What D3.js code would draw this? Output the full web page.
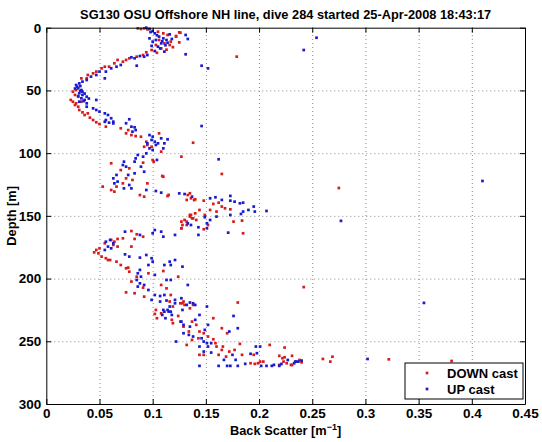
<!DOCTYPE html>
<html><head><meta charset="utf-8">
<script src="https://cdn.jsdelivr.net/npm/d3@7"></script>
<style>
body{margin:0;background:#fff}
svg{display:block}
text{font-family:"Liberation Sans",Arial,Helvetica,sans-serif;font-weight:bold;fill:#000}
</style></head>
<body><svg id="chart" width="542" height="442"></svg>
<script>
const titleText = "SG130 OSU Offshore NH line, dive 284 started 25-Apr-2008 18:43:17";
const xTicks = [0,0.05,0.1,0.15,0.2,0.25,0.3,0.35,0.4,0.45];
const yTicks = [0,50,100,150,200,250,300];
const seriesNames = ["DOWN cast","UP cast"];

// [back scatter, depth]
const downCast = [
[0.086,0.5],[0.089,1],[0.092,0.5],[0.095,1.3],[0.105,3.2],[0.110,4.5],[0.114,5.8],[0.125,3.7],[0.122,7.1],[0.106,9.8],[0.117,11.1],[0.111,12.5],[0.125,11.7],[0.103,13.8],[0.116,13.8],[0.108,16.5],[0.099,17.8],[0.094,19.6],[0.091,21.8],[0.085,23.1],[0.078,24.4],[0.075,25.7],[0.072,27.1],[0.067,25.7],[0.064,28.4],[0.059,31.1],[0.055,31.1],[0.052,32.4],[0.047,35.0],[0.044,36.4],[0.039,37.7],[0.038,40.4],[0.033,40.4],
[0.113,17.5],[0.119,15.5],[0.104,20],
[0.028,49.7],[0.025,51.0],[0.027,53.6],[0.023,57.6],[0.025,59.0],[0.028,60.3],[0.027,61.6],[0.030,63.0],[0.031,65.6],[0.034,67.5],[0.036,69.6],[0.039,68.3],[0.041,71.7],[0.044,73.6],[0.047,75.4],[0.050,76.8],[0.033,59],[0.030,55],
[0.126,4],[0.122,6.6],[0.179,23.1],
[0.056,78.9],[0.070,80.2],[0.077,81.6],[0.075,84.2],[0.080,85.6],[0.084,86.4],[0.089,86.9],[0.094,90.9],[0.092,94.9],[0.106,84.2],[0.108,98.8],[0.138,91.7],[0.127,102.8],[0.099,94.9],[0.095,93.5],[0.061,108.1],[0.078,112.1],[0.070,113.5],[0.091,107.6],[0.100,105.5],[0.110,118.8],[0.075,120.1],[0.081,121.4],[0.072,124.1],[0.095,124.1],[0.066,126.7],[0.061,129.4],[0.064,130.7],[0.053,126.7],[0.088,133.4],[0.092,134.7],[0.114,134.2],[0.133,133.4],[0.136,136.0],[0.139,137.4],[0.135,150.6],
[0.101,106.8],[0.109,118.2],[0.165,116.6],[0.115,133.3],[0.135,132],[0.132,137.3],[0.140,136.8],[0.148,137.9],[0.157,140.5],[0.162,139.5],[0.165,142.6],[0.168,144],[0.173,144.8],[0.144,145.3],[0.140,148.0],[0.135,149.3],[0.141,153.3],[0.137,152.0],[0.130,153.3],[0.127,154.6],[0.149,149.3],[0.154,145.3],[0.160,146.6],[0.176,154.6],[0.184,153.8],[0.185,163.9],[0.148,160.7],[0.132,157.3],[0.127,159.9],[0.152,157.3],
[0.275,127.8],
[0.132,154.6],[0.128,157.3],[0.127,159.9],[0.136,149.3],[0.138,152],[0.072,167.9],[0.067,168.4],[0.064,170.6],[0.061,169.2],[0.055,171.9],[0.050,175.9],[0.047,177.2],[0.045,179.1],[0.049,179.9],[0.052,182.5],[0.056,183.8],[0.060,185.2],[0.066,186.5],[0.070,189.2],[0.075,191.8],[0.078,194.5],[0.077,191.3],[0.080,162.1],[0.085,164.7],[0.091,166.6],[0.083,168.4],[0.067,174.5],[0.080,174.5],[0.063,173.2],[0.058,185.2],[0.085,198.5],[0.080,202.4],[0.075,211],[0.083,211.7],[0.092,214.4],[0.091,207.2],[0.096,195.8],[0.110,194],[0.108,205.1],[0.124,198.5],[0.128,219.7],[0.135,223.7],[0.138,221],[0.113,207.8],[0.117,213.1],[0.103,225],[0.108,227.7],
[0.242,206.8],
[0.102,228.2],[0.104,231.6],[0.116,218.3],[0.119,222.3],[0.126,219.7],[0.129,218.3],[0.130,221],[0.119,235.6],[0.118,232.9],[0.124,229.8],[0.126,234.3],[0.129,238.3],[0.137,234.3],[0.141,236.9],[0.134,242.2],[0.144,242.2],[0.148,243.6],[0.152,246.2],[0.143,247.6],[0.137,248.9],[0.132,252.9],[0.157,231.6],[0.165,239.6],[0.170,243.6],[0.180,219.1],[0.157,248.4],[0.159,251.5],[0.160,254.2],[0.165,256.9],[0.166,254.2],[0.172,258.2],[0.177,256.9],[0.182,252.1],[0.144,260.8],[0.148,260.8],[0.162,260.8],[0.169,262.2],[0.184,260.8],[0.195,260.8],[0.192,267.5],[0.196,268.0],[0.199,267.5],[0.201,266.2],[0.204,266.2],[0.210,252.9],[0.224,255],[0.219,261.6],[0.222,263.5],[0.224,262.7],[0.223,266.2],[0.231,261.6],[0.230,268.8],[0.219,268.8],[0.226,267.5],
[0.231,268.9],[0.238,264.9],[0.240,266.8],[0.260,264.1],[0.267,266.2],[0.269,262.3],[0.322,264.4],[0.381,265.7]
];

const upCast = [
[0.094,0],[0.097,1.0],[0.100,2.6],[0.102,4.5],[0.106,7.1],[0.110,8.5],[0.113,9.8],[0.103,9.8],[0.100,11.1],[0.108,12.5],[0.105,15.1],[0.111,19.1],[0.131,5.8],[0.133,9.0],[0.131,21.2],[0.116,5.3],[0.097,8.5],[0.102,18.6],[0.095,21.8],[0.092,23.1],[0.088,22.6],[0.083,24.4],[0.080,23.6],[0.085,30.3],[0.070,29.7],[0.066,31.1],[0.061,32.4],[0.056,35.0],[0.050,35.0],[0.047,37.7],[0.042,39.0],[0.038,41.7],[0.034,43.0],[0.031,44.4],[0.028,45.7],[0.055,40.4],
[0.098,3.5],[0.104,6],[0.109,10.8],[0.112,14],[0.107,16.5],[0.114,12],[0.099,14.5],[0.118,9],
[0.030,48.3],[0.033,49.7],[0.031,52.3],[0.034,53.6],[0.033,56.3],[0.036,57.6],[0.031,59],[0.038,60.3],[0.034,51],[0.038,55],[0.047,57.6],
[0.029,47],[0.032,50.5],[0.036,52.5],[0.030,54.5],[0.035,58.5],[0.040,56.5],[0.027,48.5],[0.032,46.5],
[0.038,63],[0.044,64.3],[0.047,65.6],[0.050,66.9],[0.055,68.3],[0.058,69.6],[0.061,72.2],[0.063,74.9],[0.075,76.2],[0.078,73.0],[0.056,73.6],
[0.146,30.3],[0.152,32.4],[0.242,17.8],[0.254,8.0],[0.146,78.4],
[0.055,75],[0.059,75.7],[0.063,76.3],[0.080,78.9],[0.083,79.4],[0.084,81.6],[0.081,82.9],[0.097,85.6],[0.100,86.9],[0.099,89.5],[0.102,90.9],[0.095,92.2],[0.103,93.5],[0.097,96.2],[0.100,97.5],[0.108,88.2],[0.111,92.2],[0.114,89.0],[0.110,96.2],[0.094,100.2],[0.091,102.8],[0.086,101.5],[0.084,104.2],[0.083,106.8],[0.073,106.8],[0.072,109.5],[0.075,110.8],[0.089,110.8],[0.092,114.8],[0.083,116.1],[0.077,117.4],[0.066,117.4],[0.063,120.1],[0.067,122.7],[0.064,124.1],[0.073,128.1],[0.078,125.4],[0.080,128.1],[0.094,129.4],[0.103,130.2],[0.108,131.5],[0.125,132.1],[0.130,132.6],
[0.105,92.2],[0.162,104.9],[0.104,105.4],
[0.137,134.7],[0.154,136],[0.159,135.2],[0.165,137.3],[0.173,134.1],[0.173,137.9],[0.177,138.7],[0.182,140],[0.185,139.5],[0.195,142.6],[0.196,146.6],[0.207,146.1],[0.185,146.6],[0.190,145.3],[0.183,148.5],[0.173,149.3],[0.160,150.6],[0.154,153.3],[0.149,151.1],[0.151,155.9],[0.143,159.1],[0.151,159.9],[0.171,163.4],[0.143,165.2],
[0.410,122.2],[0.277,154],[0.355,219.4],
[0.133,156],[0.136,157.3],[0.074,162.6],[0.060,169.2],[0.056,170.6],[0.063,171.9],[0.058,174.5],[0.061,175.9],[0.055,177.2],[0.088,165.2],[0.102,161.3],[0.100,163.9],[0.108,162.6],[0.110,166.6],[0.121,165.2],[0.074,180.7],[0.078,182.5],[0.088,183.3],[0.094,181.2],[0.099,183.8],[0.100,186.5],[0.096,189.2],[0.088,193.1],[0.086,195.8],[0.089,198.5],[0.085,201.1],[0.088,203.8],[0.086,206.4],[0.092,205.1],[0.096,209.1],[0.102,213.1],[0.107,213.9],[0.102,197.1],[0.111,189.2],[0.116,186.5],[0.121,185.2],[0.117,189.2],[0.128,190.5],[0.113,201.1],[0.117,201.1],[0.133,205.1],[0.111,213.1],[0.127,215.7],[0.121,219.7],[0.111,226.4],[0.114,225],[0.117,226.4],[0.128,225],[0.138,219.7],
[0.099,217],[0.107,218.3],[0.113,217.5],[0.121,217],[0.132,221],[0.135,219.1],[0.140,221],[0.151,222.3],[0.110,225],[0.116,222.3],[0.115,226.3],[0.109,229],[0.112,231.6],[0.118,229],[0.127,234.3],[0.129,236.9],[0.135,238.3],[0.144,229],[0.140,232.9],[0.152,236.9],[0.149,240.9],[0.122,250.2],[0.129,243.6],[0.134,244.9],[0.138,246.2],[0.146,247.6],[0.148,250.2],[0.151,251.5],[0.155,251.5],[0.152,254.2],[0.144,254.2],[0.148,258.2],[0.155,259],[0.167,264.8],[0.172,242.2],[0.176,229.8],[0.180,239.6],[0.175,260.8],[0.178,264.8],[0.192,260],[0.197,254.2],[0.201,254.2],[0.198,259.5],[0.187,268],[0.144,269.6],[0.162,269.6],[0.170,269.6],[0.173,269.6],[0.180,269.6],[0.202,269.6],[0.207,269.6],[0.212,269.6],[0.214,268.8],[0.219,269.6],[0.233,267.5],[0.235,266.2],[0.237,266.2],
[0.221,268.1],[0.227,264.9],[0.234,266.2],[0.240,265.4],[0.302,264.1]
];

const colors = ["#d81b1b","#1a1ad0"];

const M = {left:46.3, right:525, top:27.7, bottom:404};
const svg = d3.select("#chart");
const x = d3.scaleLinear().domain([0,0.45]).range([M.left, M.right]);
const y = d3.scaleLinear().domain([0,300]).range([M.top, M.bottom]);
const fmtX = d => (+d.toFixed(2)).toString();

// grid
const grid = svg.append("g").attr("class","grid");
grid.append("g").attr("transform",`translate(0,${M.bottom})`)
  .call(d3.axisBottom(x).tickValues(xTicks.slice(1,-1)).tickSize(-(M.bottom-M.top)).tickFormat(""));
grid.append("g").attr("transform",`translate(${M.left},0)`)
  .call(d3.axisLeft(y).tickValues(yTicks.slice(1,-1)).tickSize(-(M.right-M.left)).tickFormat(""));
grid.selectAll(".domain").remove();
grid.selectAll("line").attr("stroke","#8a8a8a").attr("stroke-dasharray","1,3").attr("stroke-width",1);

// data
const S = 2.7;
function drawSeries(data, color){
  svg.append("g").selectAll("rect").data(data).join("rect")
    .attr("x", d => x(d[0]) - S/2).attr("y", d => y(d[1]) - S/2)
    .attr("width", S).attr("height", S).attr("fill", color);
}
drawSeries(downCast, colors[0]);
drawSeries(upCast, colors[1]);

// axes
const axB = svg.append("g").attr("transform",`translate(0,${M.bottom})`)
  .call(d3.axisBottom(x).tickValues(xTicks).tickSizeInner(-5).tickSizeOuter(0).tickPadding(4).tickFormat(fmtX));
const axT = svg.append("g").attr("transform",`translate(0,${M.top})`)
  .call(d3.axisTop(x).tickValues(xTicks).tickSizeInner(-5).tickSizeOuter(0).tickFormat(""));
const axL = svg.append("g").attr("transform",`translate(${M.left},0)`)
  .call(d3.axisLeft(y).tickValues(yTicks).tickSizeInner(-5).tickSizeOuter(0).tickPadding(5));
const axR = svg.append("g").attr("transform",`translate(${M.right},0)`)
  .call(d3.axisRight(y).tickValues(yTicks).tickSizeInner(-5).tickSizeOuter(0).tickFormat(""));
[axB,axT,axL,axR].forEach(a=>{
  a.selectAll("line").attr("stroke","#000");
  a.selectAll(".domain").attr("stroke","#000");
  a.selectAll("text").attr("font-size","13.5px").attr("font-family",null).attr("font-weight","bold").attr("fill","#000");
});

// title
svg.append("text").attr("x",(M.left+M.right)/2).attr("y",19).attr("text-anchor","middle")
  .attr("font-size","12.8px").text(titleText);
// axis labels
const xl = svg.append("text").attr("x",(M.left+M.right)/2).attr("y",435).attr("text-anchor","middle").attr("font-size","12.8px");
xl.append("tspan").text("Back Scatter [m");
xl.append("tspan").attr("font-size","9px").attr("dy","-5").text("\u22121");
xl.append("tspan").attr("dy","5").text("]");
svg.append("text").attr("transform",`translate(16,${(M.top+M.bottom)/2}) rotate(-90)`)
  .attr("text-anchor","middle").attr("font-size","12.8px").text("Depth [m]");

// legend
const lg = svg.append("g");
lg.append("rect").attr("x",405).attr("y",363).attr("width",118).attr("height",36)
  .attr("fill","#fff").attr("stroke","#000").attr("stroke-width",1);
seriesNames.forEach((name,i)=>{
  const cy = 373 + i*16;
  lg.append("rect").attr("x",427-S/2).attr("y",cy-S/2).attr("width",S).attr("height",S).attr("fill",colors[i]);
  lg.append("text").attr("x",447).attr("y",cy+5).attr("font-size","13px").text(name);
});
</script></body></html>
